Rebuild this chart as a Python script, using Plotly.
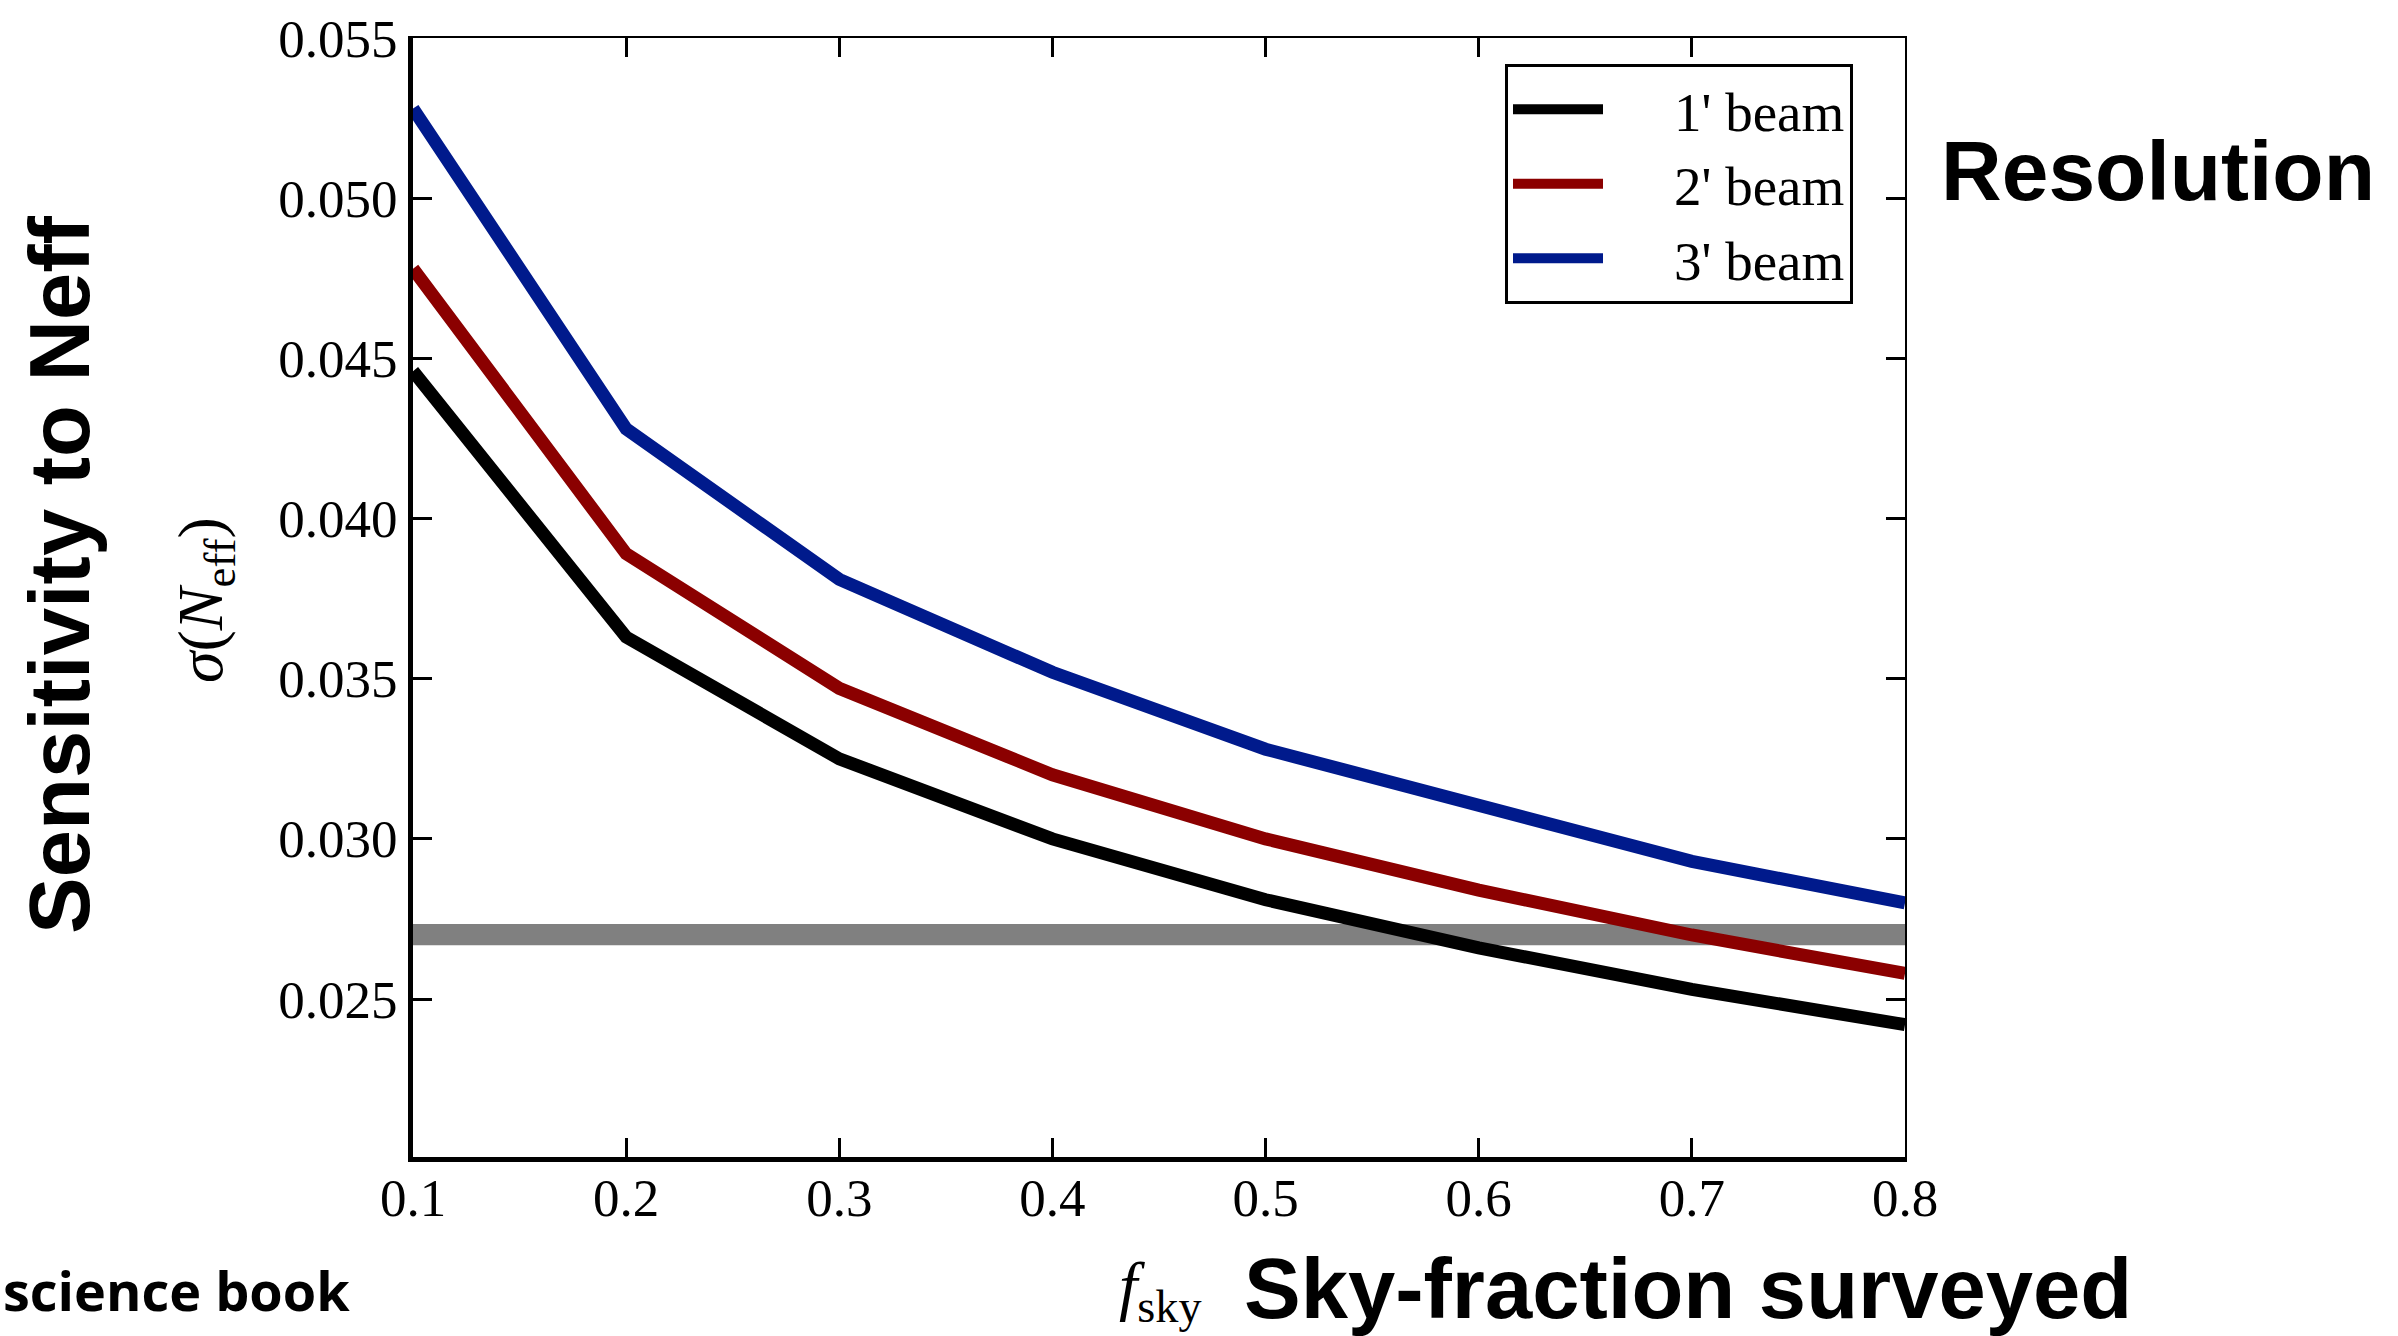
import plotly.graph_objects as go

# ---- data ----
f_sky = [0.1, 0.2, 0.3, 0.4, 0.5, 0.6, 0.7, 0.8]
beam_1 = [0.0446, 0.0363, 0.0325, 0.0300, 0.0281, 0.0266, 0.0253, 0.0242]
beam_2 = [0.0478, 0.0389, 0.0347, 0.0320, 0.0300, 0.0284, 0.0270, 0.0258]
beam_3 = [0.0528, 0.0428, 0.0381, 0.0352, 0.0328, 0.0310, 0.0293, 0.0280]
series_names = ["1' beam", "2' beam", "3' beam"]
series_colors = ["#000000", "#8b0000", "#001a8c"]
target_band = [0.02668, 0.02734]
y_ticks = [0.025, 0.030, 0.035, 0.040, 0.045, 0.050, 0.055]
x_ticks = [0.1, 0.2, 0.3, 0.4, 0.5, 0.6, 0.7, 0.8]
x_range = [0.1, 0.8]
y_range = [0.02007, 0.055]

W, H = 2398, 1336
L, R, T, B = 413, 493, 38, 179
pw, ph = W - L - R, H - T - B

def px(x):
    return (x - L) / pw

def py(y):
    return (H - B - y) / ph

serif = "Liberation Serif"
sans = "Liberation Sans"

fig = go.Figure()
for i, (name, vals, col) in enumerate(zip(series_names, [beam_1, beam_2, beam_3], series_colors)):
    fig.add_trace(go.Scatter(x=f_sky, y=vals, mode="lines", name="\u2003\u2009" + name,
                             line=dict(color=col, width=13)))

# dummy trace for mirrored top/right axes
fig.add_trace(go.Scatter(x=[None], y=[None], xaxis="x2", yaxis="y2", showlegend=False,
                         hoverinfo="skip"))

fig.add_shape(type="rect", xref="x", yref="y", x0=x_range[0], x1=x_range[1],
              y0=target_band[0], y1=target_band[1], fillcolor="#808080",
              line=dict(width=0), layer="below")

axis_common = dict(ticks="inside", tickcolor="black", tickwidth=3, ticklen=19,
                   showgrid=False, zeroline=False, showline=True, linecolor="black")

fig.update_layout(
    width=W, height=H,
    margin=dict(l=L, r=R, t=T, b=B, autoexpand=False),
    paper_bgcolor="white", plot_bgcolor="white",
    font=dict(family=serif, size=53, color="black"),
    xaxis=dict(range=x_range, tickvals=x_ticks, tickformat=".1f", linewidth=5,
               tickfont=dict(size=53), ticklabelstandoff=-10, **axis_common),
    yaxis=dict(range=y_range, tickvals=y_ticks, tickformat=".3f", linewidth=5,
               tickfont=dict(size=53), **axis_common),
    xaxis2=dict(range=x_range, tickvals=x_ticks, overlaying="x", side="top", anchor="y",
                showticklabels=False, linewidth=2, **axis_common),
    yaxis2=dict(range=y_range, tickvals=y_ticks, overlaying="y", side="right", anchor="x",
                showticklabels=False, linewidth=2, **axis_common),
    legend=dict(x=px(1505), y=py(64), xanchor="left", yanchor="top",
                bgcolor="white", bordercolor="black", borderwidth=3,
                font=dict(family=serif, size=55), itemwidth=90),
    showlegend=True,
)

annos = [
    dict(text="<b>Sensitivity to Neff</b>", x=px(59), y=py(575), textangle=-90,
         font=dict(family=sans, size=85, color="black")),
    dict(text="<i>σ</i>(<i>N</i><sub>eff</sub>)", x=px(205), y=py(600), textangle=-90,
         font=dict(family=serif, size=64, color="black")),
    dict(text="<i>f</i><sub>sky</sub>", x=px(1160), y=py(1290),
         font=dict(family=serif, size=66, color="black")),
    dict(text="<b>Sky-fraction surveyed</b>", x=px(1242), y=py(1288), xanchor="left",
         font=dict(family=sans, size=85, color="black")),
    dict(text="<b>Resolution</b>", x=px(2158), y=py(171),
         font=dict(family=sans, size=84, color="black")),
    dict(text="<b>science book</b>", x=px(352), y=py(1290), xanchor="right",
         font=dict(family="Open Sans", size=54, color="black")),
]
for a in annos:
    a.setdefault("xanchor", "center")
    a.update(xref="paper", yref="paper", yanchor="middle", showarrow=False)
    fig.add_annotation(**a)

fig.write_html("out.html")
